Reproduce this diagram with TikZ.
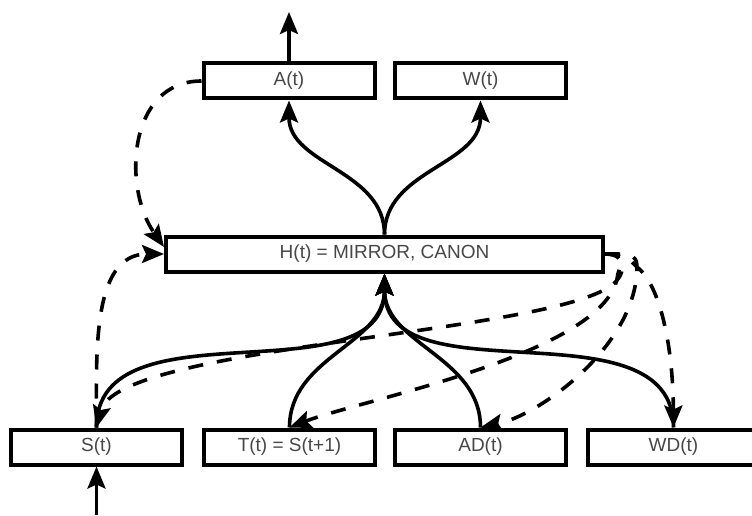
\documentclass[tikz,border=0pt]{standalone}
\usepackage{fontspec}
\setmainfont{Liberation Sans}
\usepackage{tikz}
\usetikzlibrary{arrows.meta}
\tikzset{
	cell/.style={draw=black,fill=white,line width=4pt,minimum width=171pt,minimum height=35pt,inner sep=0pt,text=black!72,font=\fontsize{19}{22}\selectfont},
	sedge/.style={draw=black,line width=3.6pt,-{Stealth[length=22pt,width=18pt,inset=4pt]}},
	dedge/.style={sedge,dash pattern=on 15pt off 14pt}
}

\begin{document}
\begin{tikzpicture}[x=1pt,y=1pt]
	\clip (0,0) rectangle (752,515);
	% boxes
	\node[cell] (A) at (289,434) {A(t)};
	\node[cell] (W) at (480.5,434) {W(t)};
	\node[cell,minimum width=437pt] (H) at (384.5,261) {H(t) = MIRROR, CANON};
	\node[cell] (S) at (96.5,68) {S(t)};
	\node[cell] (T) at (289.5,68) {T(t) = S(t+1)};
	\node[cell] (AD) at (480.5,68) {AD(t)};
	\node[cell] (WD) at (673.5,68) {WD(t)};
	\coordinate (sin) at (96.5,0);
	\coordinate (aout) at (289,503);
	% in and out
	\draw[sedge] (sin) -- (S.south);
	\draw[sedge] (A.north) -- (aout);
	% solid edges into and out of H
	\foreach \b in {S,T,AD,WD} \draw[sedge] (\b.north) to[out=90,in=-90] (H.south);
	\foreach \b in {A,W} \draw[sedge] (H.north) to[out=90,in=-90] (\b.south);
	% dashed feedback
	\draw[dedge] (A.west) to[out=180,in=125,looseness=1.1] ([yshift=7pt]H.west);
	\draw[dedge] (S.north) to[out=90,in=180] (H.west);
	\draw[dedge] (H.east) .. controls (630,261) and (624,238) .. (612,230)
		.. controls (546,180) and (117,170) .. (S.north);
	\draw[dedge] (H.east) .. controls (632,261) and (618,250) .. (617,236)
		.. controls (600,160) and (360,115) .. (T.north);
	\draw[dedge] (H.east) .. controls (628,261) and (637,262) .. (637,248)
		.. controls (637,170) and (540,100) .. (AD.north);
	\draw[dedge] (H.east) .. controls (628,261) and (632,252) .. (637,248)
		.. controls (660,230) and (673,170) .. (WD.north);
\end{tikzpicture}
\end{document}
